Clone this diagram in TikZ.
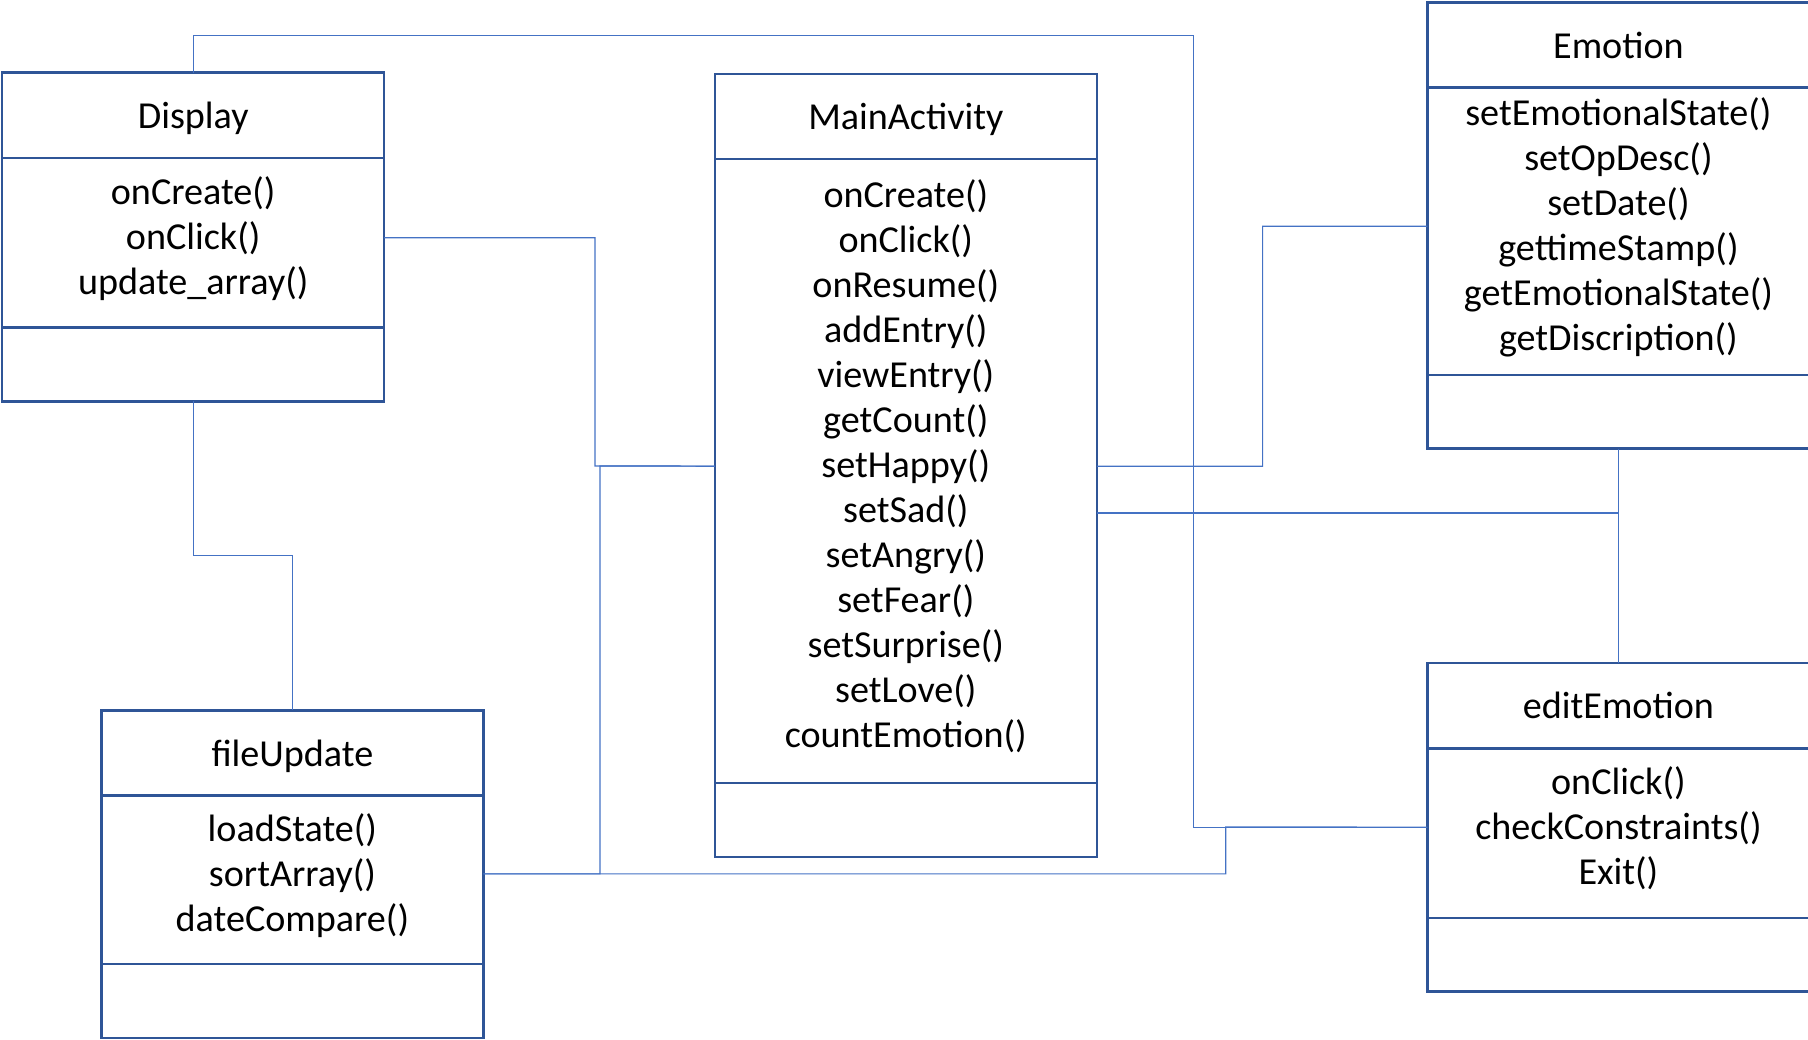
\documentclass[tikz,border=0pt]{standalone}
\usepackage{fontspec}
\setmainfont{Carlito}
\usepackage{xcolor}
\usepackage{tikz}
\usetikzlibrary{positioning}

\definecolor{boxblue}{HTML}{2F5597}
\definecolor{linkblue}{HTML}{4472C4}
% extra depth under the last method, lifts the list a little
\newcommand{\lastop}{\rule[-4.3pt]{0pt}{4.3pt}}

\begin{document}
\begin{tikzpicture}[font=\fontsize{10.85}{12.8}\selectfont,
    box/.style={draw=boxblue, line width=0.7pt, minimum width=3.82cm, inner sep=0pt, outer sep=0pt, align=center},
    title/.style={box, minimum height=0.854cm, text depth=0pt},
    link/.style={draw=linkblue, line width=0.35pt}]
    \useasboundingbox (0,0) rectangle (18.08,-10.39);

    % Display
    \node[title] (display) at (1.932,-1.153) {Display};
    \node[box, minimum height=1.695cm, below=0pt of display] (displayOps) {onCreate()\\onClick()\\update\_array()\lastop};
    \node[box, minimum height=0.738cm, below=0pt of displayOps] (displayEnd) {};

    % MainActivity
    \node[title] (main) at (9.058,-1.165) {MainActivity};
    \node[box, minimum height=6.239cm, below=0pt of main] (mainOps) {onCreate()\\onClick()\\onResume()\\addEntry()\\viewEntry()\\getCount()\\setHappy()\\setSad()\\setAngry()\\setFear()\\setSurprise()\\setLove()\\countEmotion()\lastop};
    \node[box, minimum height=0.738cm, below=0pt of mainOps] (mainEnd) {};

    % Emotion
    \node[title] (emotion) at (16.184,-0.450) {Emotion};
    \node[box, minimum height=2.872cm, below=0pt of emotion] (emotionOps) {setEmotionalState()\\setOpDesc()\\setDate()\\gettimeStamp()\\getEmotionalState()\\getDiscription()\lastop};
    \node[box, minimum height=0.738cm, below=0pt of emotionOps] (emotionEnd) {};

    % editEmotion
    \node[title] (edit) at (16.184,-7.057) {editEmotion};
    \node[box, minimum height=1.695cm, below=0pt of edit] (editOps) {onClick()\\checkConstraints()\\Exit()\lastop};
    \node[box, minimum height=0.738cm, below=0pt of editOps] (editEnd) {};

    % fileUpdate
    \node[title] (file) at (2.924,-7.530) {fileUpdate};
    \node[box, minimum height=1.683cm, below=0pt of file] (fileOps) {loadState()\\sortArray()\\dateCompare()\lastop};
    \node[box, minimum height=0.738cm, below=0pt of fileOps] (fileEnd) {};

    % connectors
    \coordinate (tee) at (16.184,-5.131);
    \draw[link] (display.north) |- (11.935,-0.357) |- ([yshift=.6mm]editOps.west);
    \draw[link] ([yshift=.5mm]displayOps.east) -| (5.95,-4.66) -- ([yshift=.5mm]mainOps.west);
    \draw[link] ([yshift=.6mm]fileOps.east) -| (6.00,-4.66) -- ([yshift=.5mm]mainOps.west);
    \draw[link] ([yshift=.6mm]fileOps.east) -| (12.257,-8.27) -- ([yshift=.6mm]editOps.west);
    \draw[link] (displayEnd.south) -- (1.932,-5.558) -| (file.north);
    \draw[link] ([yshift=.5mm]mainOps.east) -| (12.626,-2.262) -- ([yshift=.5mm]emotionOps.west);
    \draw[link] (emotionEnd.south) -- (tee) -- (edit.north);
    \draw[link] (mainOps.east |- tee) -- (tee);
\end{tikzpicture}
\end{document}
